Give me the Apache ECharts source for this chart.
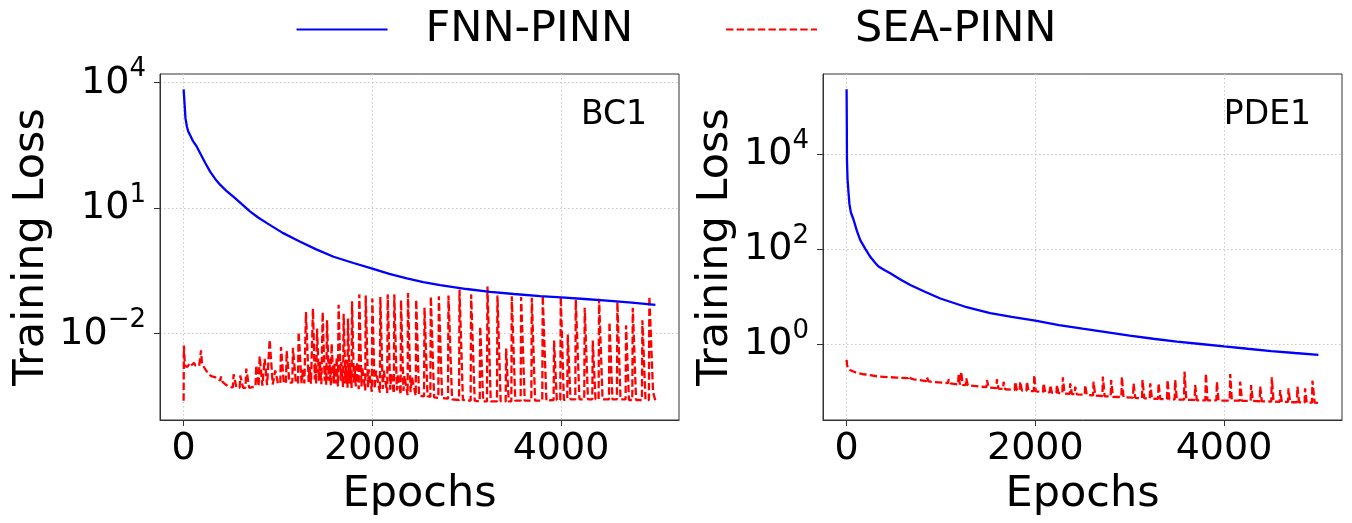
<!DOCTYPE html>
<html>
<head>
<meta charset="utf-8">
<script src="https://cdn.jsdelivr.net/npm/echarts@6/dist/echarts.min.js"></script>
<style>
html,body{margin:0;padding:0;background:#fff;}
#c{width:1352px;height:523px;}
</style>
</head>
<body>
<div id="c"></div>
<script>
// ---------------- data ----------------
const seriesNames = ['FNN-PINN', 'SEA-PINN'];
const panelLabels = ['BC1', 'PDE1'];
const epochTicks = [0, 2000, 4000];
const bcTicks = [1e-2, 1e1, 1e4];
const pdeTicks = [1e0, 1e2, 1e4];

// BC1 panel, FNN-PINN  [epoch, loss]
const fnnBC = [[0,6900],[10,3200],[20,1400],[35,900],[50,676],[75,525],[100,400],[140,295],[177,204],
  [230,120],[283,74],[335,50],[389,36],[460,25.1],[530,18.6],[620,12.3],[706,8.3],[790,6.0],[883,4.4],
  [1050,2.57],[1236,1.58],[1400,1.05],[1589,0.69],[1800,0.49],[2000,0.36],[2180,0.269],[2366,0.21],
  [2540,0.17],[2719,0.145],[3000,0.117],[3249,0.1],[3500,0.089],[3778,0.079],[4000,0.074],[4250,0.0676],
  [4485,0.062],[4750,0.055],[5000,0.049]];

// BC1 panel, SEA-PINN  [epoch, loss]
const seaBC = [[0,2.5e-4],[3,5.2e-3],[8,3.0e-3],[15,1.7e-3],[40,1.6e-3],[60,1.9e-3],[75,1.7e-3],[95,1.75e-3],
  [110,2.0e-3],[125,1.75e-3],[145,1.8e-3],[165,1.7e-3],[178,1.8e-3],[185,4.0e-3],[195,1.9e-3],[215,1.6e-3],
  [240,1.3e-3],[270,1.05e-3],[300,9.5e-4],[330,9.2e-4],[360,8.3e-4],[390,7.6e-4],[396,9.5e-4],[410,7.2e-4],
  [440,6.2e-4],[470,5.6e-4],[500,5.3e-4],
  [522,5.2e-4],[530,1.07e-3],[560,5.1e-4],[594,5.1e-4],[601,1.0e-3],[630,5.1e-4],[656,5.1e-4],[664,1.46e-3],
  [695,5.1e-4],[730,5.3e-4],[762,5.4e-4],[770,1.75e-3],[795,5.5e-4],[800,5.5e-4],[806,2.9e-3],[835,5.7e-4],
  [852,5.8e-4],[859,2.5e-3],[885,5.9e-4],[905,6.0e-4],[912,7.2e-3],[945,6.1e-4],[965,6.2e-4],[972,1.33e-3],
  [1000,6.4e-4],[1025,6.5e-4],[1032,4.8e-3],[1062,6.6e-4],[1085,6.7e-4],[1092,3.85e-3],[1122,6.8e-4],
  [1152,6.8e-4],[1159,4.6e-3],[1190,6.7e-4],[1212,6.6e-4],[1219,1.1e-2],[1250,6.6e-4],[1265,1.4e-3],
  [1280,6.5e-4],[1290,6.5e-4],[1297,3.3e-2],[1325,7.0e-4],[1335,1.6e-3],[1350,6.4e-4],[1364,6.3e-4],
  [1371,3.96e-2],[1390,8e-4],[1395,2.0e-3],[1405,6.3e-4],[1408,6.3e-4],[1414,1.32e-2],[1435,7.5e-4],
  [1442,2.2e-3],[1460,6.2e-4],[1468,6.2e-4],[1474,3.3e-2],[1495,7.5e-4],[1502,1.7e-3],[1512,6.0e-4],
  [1515,6.0e-4],[1520,2.1e-2],[1538,7.5e-4],[1545,2.5e-3],[1560,5.8e-4],[1564,5.8e-4],[1569,5.8e-3],
  [1590,6.5e-4],[1600,1.9e-3],[1615,6.5e-4],[1622,2.8e-3],[1635,5.5e-4],[1638,5.5e-4],[1643,4.93e-2],
  [1665,7.5e-4],[1672,2.1e-3],[1690,5.3e-4],[1691,5.3e-4],[1696,3.0e-2],[1715,6.5e-4],[1722,2.4e-3],
  [1737,5.1e-4],[1738,5.1e-4],[1742,2.29e-2],[1758,6.5e-4],[1764,2.0e-3],[1780,5.0e-4],[1781,5.0e-4],
  [1785,5.93e-2],[1805,6.5e-4],[1812,1.7e-3],[1825,5.5e-4],[1840,2.1e-3],[1856,4.7e-4],[1858,4.7e-4],
  [1862,8.7e-2],[1885,5.5e-4],[1892,1.6e-3],[1925,4.4e-4],[1926,4.4e-4],[1930,8.2e-2],[1955,5.2e-4],
  [1962,1.4e-3],[1995,4.1e-4],[1996,4.1e-4],[2000,6.9e-2],[2025,4.8e-4],[2040,1.3e-3],[2080,3.9e-4],
  [2081,3.9e-4],[2085,7.5e-2],[2110,4.8e-4],[2122,1.3e-3],[2158,3.8e-4],[2159,3.8e-4],[2163,8.7e-2],
  [2190,4.6e-4],[2200,1.1e-3],[2228,3.7e-4],[2229,3.7e-4],[2233,8.7e-2],[2260,4.4e-4],[2270,1.1e-3],
  [2300,3.5e-4],[2304,6.3e-2],[2330,4.3e-4],[2340,1.0e-3],[2374,3.4e-4],[2378,9.4e-2],[2405,4.0e-4],
  [2420,9e-4],[2460,3.3e-4],[2465,6.5e-2],[2495,3.3e-4],[2548,3.2e-4],[2553,4.19e-2],[2585,3.2e-4],
  [2615,3.1e-4],[2620,7.8e-2],[2655,3.0e-4],[2700,2.9e-4],[2705,7.8e-2],[2740,2.9e-4],[2802,2.8e-4],
  [2807,8.2e-2],[2845,2.7e-4],[2919,2.6e-4],[2924,0.113],[2960,2.6e-4],[3042,2.5e-4],[3047,8.7e-2],
  [3085,2.5e-4],[3138,2.4e-4],[3143,1.5e-2],[3175,2.4e-4],[3215,2.4e-4],[3220,0.135],[3255,2.4e-4],
  [3321,2.4e-4],[3326,8.2e-2],[3360,2.4e-4],[3413,2.4e-4],[3418,4.4e-3],[3445,2.4e-4],[3473,2.4e-4],
  [3478,7.8e-2],[3515,2.5e-4],[3572,2.5e-4],[3577,7.5e-2],[3615,2.5e-4],[3685,2.5e-4],[3690,7.25e-2],
  [3725,2.5e-4],[3801,2.5e-4],[3806,8.2e-2],[3845,2.5e-4],[3921,2.6e-4],[3926,6.9e-3],[3955,2.6e-4],
  [3992,2.6e-4],[3997,7.8e-2],[4030,2.6e-4],[4066,2.7e-4],[4071,9.6e-3],[4100,2.7e-4],[4151,2.7e-4],
  [4156,6.5e-2],[4195,2.7e-4],[4246,2.7e-4],[4251,4.19e-2],[4285,2.7e-4],[4331,2.7e-4],[4336,6.9e-3],
  [4365,2.7e-4],[4398,2.7e-4],[4403,6.87e-2],[4440,2.7e-4],[4508,2.7e-4],[4513,1.9e-2],[4545,2.7e-4],
  [4592,2.7e-4],[4597,5.72e-2],[4630,2.7e-4],[4684,2.7e-4],[4689,1.58e-2],[4720,2.6e-4],[4755,2.6e-4],
  [4760,4.19e-2],[4795,2.6e-4],[4857,2.6e-4],[4862,2.09e-2],[4895,2.6e-4],[4931,2.6e-4],[4936,7.8e-2],
  [4975,4e-4],[5000,2.5e-4]];

// PDE1 panel, FNN-PINN  [epoch, loss]
const fnnPDE = [[0,2.37e5],[2,6e4],[4,7.6e3],[10,3e3],[21,1.5e3],[30,900],[45,600],[74,417],[110,240],
  [145,155],[200,100],[251,69],[300,52.5],[339,43],[400,36.3],[463,31],[570,22.9],[675,17.6],[830,12.6],
  [993,9.1],[1250,6.17],[1522,4.5],[1750,3.72],[2000,3.1],[2250,2.51],[2500,2.1],[2750,1.78],[3000,1.5],
  [3250,1.29],[3500,1.12],[3750,1.0],[4000,0.89],[4250,0.794],[4500,0.71],[4750,0.646],[5000,0.59]];

// PDE1 panel, SEA-PINN  [epoch, loss]
const seaPDE = [[0,0.46],[5,0.36],[15,0.30],[40,0.28],[100,0.25],[180,0.23],[357,0.204],[533,0.196],
  [650,0.19],[657,0.211],[680,0.188],[710,0.18],[845,0.165],[851,0.198],[870,0.162],[887,0.16],
  [1075,0.149],[1081,0.18],[1100,0.147],[1181,0.14],[1187,0.222],[1200,0.139],[1210,0.138],[1215,0.26],
  [1230,0.137],[1263,0.135],[1268,0.189],[1285,0.134],[1416,0.126],[1482,0.123],[1487,0.174],[1505,0.121],
  [1588,0.117],[1593,0.18],[1610,0.115],[1659,0.113],[1664,0.16],[1680,0.111],[1782,0.107],[1787,0.16],
  [1805,0.106],[1835,0.105],[1840,0.16],[1858,0.104],[1906,0.103],[1911,0.16],[1928,0.102],[1984,0.101],
  [1989,0.222],[2005,0.1],[2082,0.097],[2087,0.148],[2105,0.096],[2153,0.095],[2158,0.136],[2175,0.094],
  [2224,0.093],[2229,0.136],[2246,0.092],[2287,0.091],[2292,0.198],[2310,0.09],[2365,0.089],[2370,0.148],
  [2388,0.088],[2418,0.088],[2423,0.126],[2440,0.087],[2524,0.085],[2529,0.136],[2545,0.084],[2612,0.083],
  [2617,0.16],[2635,0.082],[2711,0.08],[2716,0.205],[2735,0.079],[2799,0.078],[2804,0.174],[2822,0.077],
  [2912,0.076],[2917,0.205],[2935,0.075],[3036,0.074],[3041,0.148],[3060,0.073],[3131,0.072],[3136,0.174],
  [3155,0.071],[3213,0.071],[3218,0.148],[3236,0.07],[3301,0.07],[3306,0.148],[3325,0.069],[3396,0.069],
  [3401,0.174],[3420,0.068],[3477,0.068],[3482,0.174],[3500,0.067],[3576,0.067],[3581,0.261],[3600,0.066],
  [3689,0.066],[3694,0.136],[3712,0.065],[3802,0.065],[3807,0.24],[3825,0.065],[3919,0.065],[3924,0.16],
  [3942,0.064],[4060,0.064],[4065,0.233],[4083,0.064],[4166,0.064],[4171,0.16],[4190,0.063],[4282,0.063],
  [4287,0.136],[4305,0.063],[4378,0.062],[4383,0.126],[4400,0.062],[4501,0.061],[4506,0.198],[4525,0.061],
  [4590,0.06],[4595,0.107],[4612,0.06],[4678,0.06],[4683,0.116],[4700,0.059],[4773,0.059],[4778,0.126],
  [4795,0.059],[4854,0.058],[4859,0.116],[4876,0.058],[4932,0.058],[4937,0.168],[4960,0.058],[5000,0.057]];

// ---------------- chart ----------------
const FONT = 'DejaVu Sans';
const chart = echarts.init(document.getElementById('c'), null, {renderer: 'canvas'});

function supFormatter(v) {
  const e = Math.round(Math.log10(v));
  const s = String(e).replace('-', '\u2212');
  return '{b|10}{s|' + s + '}';
}
const rich = {
  b: {fontSize: 38, fontFamily: FONT, color: '#000', lineHeight: 52, verticalAlign: 'middle'},
  s: {fontSize: 26, fontFamily: FONT, color: '#000', verticalAlign: 'top'}
};
const gridLine = {show: true, lineStyle: {color: '#c8c8c8', width: 1, type: [1.5, 2.5]}};

function xAxisCfg(gi) {
  return {
    type: 'value', gridIndex: gi, min: -250, max: 5250,
    name: 'Epochs', nameLocation: 'middle', nameGap: 50,
    nameTextStyle: {fontSize: 43, color: '#000', fontFamily: FONT},
    axisLine: {show: true, onZero: false, lineStyle: {color: '#333', width: 1}},
    axisTick: {show: true, length: 6, customValues: epochTicks, lineStyle: {color: '#333'}},
    axisLabel: {customValues: epochTicks, fontSize: 38, color: '#000', fontFamily: FONT, margin: 10,
      formatter: function (v) { return String(Math.round(v)); }},
    splitLine: gridLine
  };
}
function yAxisCfg(gi, min, max, ticks, gap) {
  return {
    type: 'log', logBase: 10, gridIndex: gi, min: min, max: max,
    name: 'Training Loss', nameLocation: 'middle', nameGap: gap,
    nameTextStyle: {fontSize: 43, color: '#000', fontFamily: FONT},
    axisLine: {show: true, onZero: false, lineStyle: {color: '#333', width: 1}},
    axisTick: {show: true, length: 6, customValues: ticks, lineStyle: {color: '#333'}},
    axisLabel: {customValues: ticks, margin: 14, formatter: supFormatter, rich: rich},
    splitLine: gridLine,
    minorTick: {show: false}, minorSplitLine: {show: false}
  };
}

const blue = {color: '#0000ff', width: 2.3, type: 'solid'};
const red = {color: '#ff0000', width: 2.3, type: [7.4, 3.2]};

const option = {
  backgroundColor: '#ffffff',
  animation: false,
  legend: {
    data: seriesNames, top: 3, left: 'center',
    itemWidth: 91, itemHeight: 14, itemGap: 92,
    itemStyle: {opacity: 0, borderWidth: 0},
    textStyle: {fontSize: 43, color: '#000', fontFamily: FONT, padding: [0, 0, 0, 33]}
  },
  title: [
    {text: panelLabels[0], right: 705, top: 99, padding: 0,
     textStyle: {fontSize: 33, fontWeight: 'normal', color: '#000', fontFamily: FONT}},
    {text: panelLabels[1], right: 41, top: 99, padding: 0,
     textStyle: {fontSize: 33, fontWeight: 'normal', color: '#000', fontFamily: FONT}}
  ],
  grid: [
    {left: 160, top: 74, width: 519, height: 346, show: true, borderColor: '#333', borderWidth: 1},
    {left: 823, top: 74, width: 519, height: 346, show: true, borderColor: '#333', borderWidth: 1}
  ],
  xAxis: [xAxisCfg(0), xAxisCfg(1)],
  yAxis: [
    yAxisCfg(0, Math.pow(10, -4.063), Math.pow(10, 4.208), bcTicks, 107),
    yAxisCfg(1, Math.pow(10, -1.603), Math.pow(10, 5.694), pdeTicks, 86)
  ],
  series: [
    {name: seriesNames[0], type: 'line', xAxisIndex: 0, yAxisIndex: 0, data: fnnBC, showSymbol: false, symbol: 'none',
     lineStyle: blue, itemStyle: {color: '#0000ff'}, z: 3},
    {name: seriesNames[1], type: 'line', xAxisIndex: 0, yAxisIndex: 0, data: seaBC, showSymbol: false, symbol: 'none',
     lineStyle: red, itemStyle: {color: '#ff0000'}, z: 2},
    {name: seriesNames[0], type: 'line', xAxisIndex: 1, yAxisIndex: 1, data: fnnPDE, showSymbol: false, symbol: 'none',
     lineStyle: blue, itemStyle: {color: '#0000ff'}, z: 3},
    {name: seriesNames[1], type: 'line', xAxisIndex: 1, yAxisIndex: 1, data: seaPDE, showSymbol: false, symbol: 'none',
     lineStyle: red, itemStyle: {color: '#ff0000'}, z: 2}
  ]
};
chart.setOption(option);
</script>
</body>
</html>
